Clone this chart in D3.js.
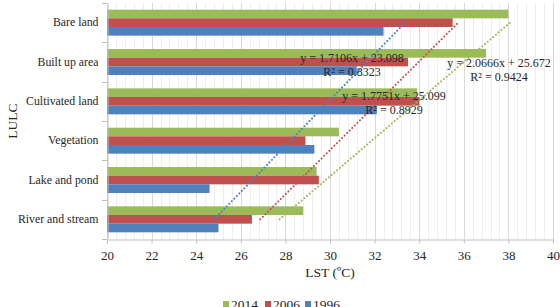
<!DOCTYPE html>
<html>
<head>
<meta charset="utf-8">
<script src="https://cdn.jsdelivr.net/npm/d3@7"></script>
<style>
  body { margin: 0; background: #fff; }
  text { font-family: "Liberation Serif", "Times New Roman", serif; fill: #262626; }
</style>
</head>
<body>
<script>
// categories top to bottom, Excel counts them from the bottom (River = 1)
var categories = ["Bare land", "Built up area", "Cultivated land", "Vegetation", "Lake and pond", "River and stream"];
var years = ["2014", "2006", "1996"];
var v2014 = [38.0, 37.0, 33.9, 30.4, 29.4, 28.8];
var v2006 = [35.5, 33.5, 34.0, 28.9, 29.5, 26.5];
var v1996 = [32.4, 31.2, 32.1, 29.3, 24.6, 25.0];
var xTicks = [20, 22, 24, 26, 28, 30, 32, 34, 36, 38, 40];
// linear trendlines y = a*x + b (x = category index from bottom)
var trendSlope = [2.0666, 1.7751, 1.7106];
var trendIntercept = [25.672, 25.099, 23.098];
var trendLabels = [
  ["y = 2.0666x + 25.672", "R² = 0.9424"],
  ["y = 1.7751x + 25.099", "R² = 0.8929"],
  ["y = 1.7106x + 23.098", "R² = 0.8323"]
];
var colors = ["#9bbb59", "#c0504d", "#4f81bd"];
var series = [v2014, v2006, v1996];

var w = 560, h = 307;
var pLeft = 107, pRight = 553, pTop = 3, pBottom = 239; // plot box
var serif = "Liberation Serif";

var svg = d3.select("body").append("svg")
  .attr("width", w)
  .attr("height", h);

var xScale = d3.scaleLinear().domain([20, 40]).range([pLeft, pRight]);
var yScale = d3.scaleBand().domain(categories).range([pTop, pBottom]).padding(0);
var groupH = yScale.bandwidth() * 0.66;
var inner = d3.scaleBand().domain(years)
  .range([0, groupH]);

//gridlines: minor then major
var minor = d3.range(20, 40.001, 0.4);
svg.append("g").selectAll("line")
  .data(minor)
  .enter().append("line")
  .attr("x1", function(d) { return Math.round(xScale(d)) + 0.5; })
  .attr("x2", function(d) { return Math.round(xScale(d)) + 0.5; })
  .attr("y1", pTop).attr("y2", pBottom)
  .attr("stroke", "#eeeeee");
svg.append("g").selectAll("line")
  .data(xTicks)
  .enter().append("line")
  .attr("x1", function(d) { return Math.round(xScale(d)) + 0.5; })
  .attr("x2", function(d) { return Math.round(xScale(d)) + 0.5; })
  .attr("y1", pTop).attr("y2", pBottom)
  .attr("stroke", "#d9d9d9");

//bars
series.forEach(function(vals, s) {
  svg.append("g").selectAll("rect")
    .data(vals)
    .enter().append("rect")
    .attr("x", xScale(20))
    .attr("y", function(d, i) {
      return yScale(categories[i]) + (yScale.bandwidth() - groupH) / 2 + inner(years[s]);
    })
    .attr("width", function(d) { return xScale(d) - xScale(20); })
    .attr("height", inner.bandwidth())
    .attr("fill", colors[s]);
});

//axes
var xAxis = d3.axisBottom(xScale).tickValues(xTicks).tickSize(4).tickFormat(d3.format("d"));
var gx = svg.append("g").attr("transform", "translate(0," + (pBottom + 0.5) + ")").call(xAxis);
gx.attr("font-family", serif);
gx.select(".domain").attr("stroke", "#bfbfbf");
gx.selectAll(".tick line").attr("stroke", "#bfbfbf");
gx.selectAll("text").attr("font-size", "13px").attr("dy", "1.05em").attr("fill", "#262626");

var yAxis = d3.axisLeft(yScale).tickSize(0).tickPadding(9);
var gy = svg.append("g").attr("transform", "translate(" + (pLeft + 0.5) + ",0)").call(yAxis);
gy.attr("font-family", serif);
gy.select(".domain").attr("stroke", "#bfbfbf");
gy.selectAll("text").attr("font-size", "11.8px").attr("fill", "#262626");
// category boundary ticks
svg.append("g").selectAll("line")
  .data(d3.range(categories.length + 1))
  .enter().append("line")
  .attr("x1", pLeft - 5).attr("x2", pLeft)
  .attr("y1", function(i) { return Math.round(pTop + i * yScale.step()) + 0.5; })
  .attr("y2", function(i) { return Math.round(pTop + i * yScale.step()) + 0.5; })
  .attr("stroke", "#bfbfbf");

//trendlines
var n = categories.length;
series.forEach(function(vals, s) {
  var pts = [1, n].map(function(k) {
    var cat = categories[n - k];
    return [xScale(trendSlope[s] * k + trendIntercept[s]), yScale(cat) + yScale.bandwidth() / 2];
  });
  svg.append("path")
    .attr("d", d3.line()(pts))
    .attr("fill", "none")
    .attr("stroke", colors[s])
    .attr("stroke-width", 2)
    .attr("stroke-linecap", "round")
    .attr("stroke-dasharray", "0.1,3.5");
});

//equation labels
var labelPos = [[499, 67], [394, 100], [352, 62]];
trendLabels.forEach(function(lab, s) {
  var t = svg.append("text")
    .attr("x", labelPos[s][0])
    .attr("y", labelPos[s][1])
    .attr("text-anchor", "middle")
    .attr("font-size", "12px");
  t.append("tspan").attr("x", labelPos[s][0]).text(lab[0]);
  t.append("tspan").attr("x", labelPos[s][0]).attr("dy", 14).text(lab[1]);
});

//axis titles
svg.append("text")
  .attr("x", (pLeft + pRight) / 2).attr("y", 277)
  .attr("text-anchor", "middle")
  .attr("font-size", "13.5px")
  .text("LST (ºC)");
svg.append("text")
  .attr("transform", "translate(17," + ((pTop + pBottom) / 2) + ") rotate(-90)")
  .attr("text-anchor", "middle")
  .attr("font-size", "13.5px")
  .text("LULC");

//legend
var legendX = [223, 265, 305];
years.forEach(function(yr, s) {
  svg.append("rect")
    .attr("x", legendX[s]).attr("y", 301)
    .attr("width", 6).attr("height", 6)
    .attr("fill", colors[s]);
  svg.append("text")
    .attr("x", legendX[s] + 8).attr("y", 309)
    .attr("font-size", "13.5px")
    .text(yr);
});
</script>
</body>
</html>
